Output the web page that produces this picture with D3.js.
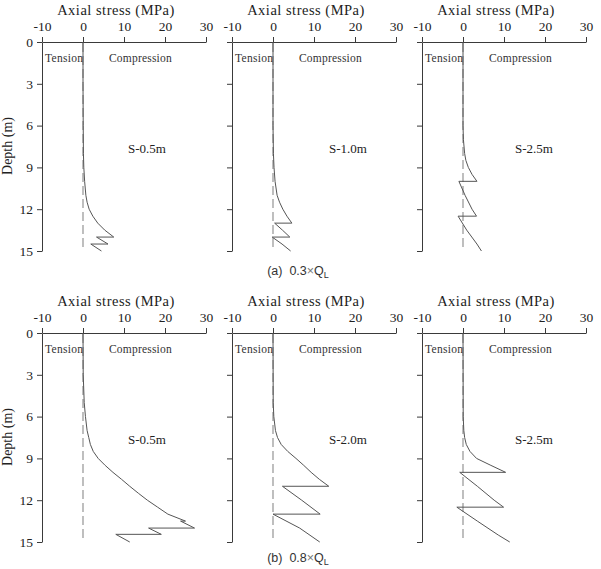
<!DOCTYPE html>
<html><head><meta charset="utf-8">
<script src="https://cdn.jsdelivr.net/npm/d3@7"></script>
<style>body{margin:0;background:#fff}</style></head>
<body><svg id="c" width="601" height="569"></svg>
<script>
// ---------- data ----------
const xTicks = [-10, 0, 10, 20, 30];
const yTicks = [0, 3, 6, 9, 12, 15];
const xTitle = "Axial stress (MPa)";
const yTitle = "Depth (m)";
const zoneLabels = ["Tension", "Compression"];
const rowCaptions = ["(a)", "(b)"];
const loadFactors = ["0.3", "0.8"];
const namesA = ["S-0.5m", "S-1.0m", "S-2.5m"];
const namesB = ["S-0.5m", "S-2.0m", "S-2.5m"];

// (a) 0.3×QL
const depthA1  = [0, 3, 6, 8, 9, 10, 11, 11.5, 12, 12.5, 13, 13.5, 14, 14, 14.5, 14.5, 15];
const stressA1 = [0, 0, 0.05, 0.1, 0.2, 0.4, 0.7, 1.0, 1.5, 2.4, 3.6, 5.3, 7.5, 3.3, 6.1, 1.9, 4.5];
const depthA2  = [0, 6, 8, 9, 10, 11, 11.5, 12, 12.5, 13, 13, 13.5, 14, 14, 14.5, 15];
const stressA2 = [0, 0, 0.1, 0.25, 0.5, 1.0, 1.6, 2.4, 3.4, 4.6, 0.4, 2.3, 4.1, -0.2, 2.2, 4.3];
const depthA3  = [0, 6, 7, 8, 8.5, 9, 9.5, 10, 10, 11, 12, 12.5, 12.5, 13.5, 14.5, 15];
const stressA3 = [0, 0, 0.1, 0.4, 0.7, 1.3, 2.2, 3.4, -1.0, 0.5, 2.2, 3.3, -1.2, 0.9, 3.4, 4.5];

// (b) 0.8×QL
const depthB1  = [0, 3, 5, 6, 7, 7.5, 8, 8.5, 9, 9.5, 10, 10.5, 11, 11.5, 12, 12.5, 13, 13.5, 13.5, 14, 14, 14.45, 14.45, 15];
const stressB1 = [0, 0.05, 0.3, 0.6, 1.0, 1.4, 1.8, 2.5, 3.7, 5.4, 7.3, 9.4, 11.4, 13.5, 15.7, 18.2, 20.7, 25.0, 23.8, 27.2, 16.0, 19.1, 8.0, 11.4];
const depthB2  = [0, 5, 6, 7, 7.5, 8, 8.5, 9, 9.5, 10, 10.5, 11, 11, 12, 13, 13, 14, 15];
const stressB2 = [0, 0.05, 0.2, 0.6, 1.1, 2.0, 3.6, 5.6, 7.5, 9.3, 11.3, 13.6, 2.3, 7.0, 11.5, 0, 6.5, 11.4];
const depthB3  = [0, 6, 7, 7.5, 8, 8.5, 9, 9.5, 10, 10, 11, 12, 12.5, 12.5, 13.5, 14.5, 15];
const stressB3 = [0, 0.05, 0.2, 0.4, 0.8, 1.7, 3.3, 6.8, 10.4, -0.8, 3.5, 7.6, 9.9, -1.5, 3.5, 8.6, 11.4];

// ---------- layout ----------
const W = 164, H = 209;
const colLeft = [42, 232, 422];
const rowTop = [42, 333];
const labelOffset = [64, 75, 71];
const serif = "'Liberation Serif','Times New Roman',serif";

const rows = [
  { names: namesA, series: [[depthA1, stressA1], [depthA2, stressA2], [depthA3, stressA3]] },
  { names: namesB, series: [[depthB1, stressB1], [depthB2, stressB2], [depthB3, stressB3]] }
];

const svg = d3.select("#c");
svg.append("rect").attr("width", 601).attr("height", 569).attr("fill", "#fff");

const x = d3.scaleLinear().domain([-10, 30]).range([0, W]);
const y = d3.scaleLinear().domain([0, 15]).range([0, H]);
const line = d3.line().x(d => x(d[1])).y(d => y(d[0]));
const hyphenFmt = v => String(v);

rows.forEach((row, ri) => {
  row.series.forEach((ser, ci) => {
    const g = svg.append("g").attr("transform", `translate(${colLeft[ci]},${rowTop[ri]})`);

    const xa = g.append("g").call(d3.axisTop(x).tickValues(xTicks).tickSize(5).tickSizeOuter(0).tickPadding(6).tickFormat(hyphenFmt));
    const ya = g.append("g").call(d3.axisLeft(y).tickValues(yTicks).tickSize(5).tickSizeOuter(0).tickPadding(4)
      .tickFormat(ci === 0 ? hyphenFmt : () => ""));
    [xa, ya].forEach(a => {
      a.selectAll("path,line").attr("stroke", "#3a3a3a").attr("stroke-width", 1);
      a.selectAll("text").attr("fill", "#222").style("font-family", serif).style("font-size", "13.5px");
    });

    g.append("text").attr("x", 74).attr("y", -27.5).attr("text-anchor", "middle")
      .style("font-family", serif).style("font-size", "14.5px").style("letter-spacing", "0.5px")
      .attr("fill", "#222").text(xTitle);

    if (ci === 0) {
      g.append("text").attr("transform", `translate(${12 - colLeft[0]},104) rotate(-90)`)
        .attr("text-anchor", "middle").style("font-family", serif).style("font-size", "14px")
        .attr("fill", "#222").text(yTitle);
    }

    g.append("line").attr("x1", x(0)).attr("x2", x(0)).attr("y1", y(0) + 1).attr("y2", y(15))
      .attr("stroke", "#8a8a8a").attr("stroke-width", 1.1).attr("stroke-dasharray", "9,4");

    g.append("text").attr("x", 3).attr("y", 20).style("font-family", serif).style("font-size", "11.5px")
      .style("letter-spacing", "0.3px").attr("fill", "#333").text(zoneLabels[0]);
    g.append("text").attr("x", x(0) + 26).attr("y", 20).style("font-family", serif).style("font-size", "11.5px")
      .style("letter-spacing", "0.2px").attr("fill", "#333").text(zoneLabels[1]);

    g.append("text").attr("x", x(0) + labelOffset[ci]).attr("y", 110.5).attr("text-anchor", "middle")
      .style("font-family", serif).style("font-size", "13px").attr("fill", "#222").text(row.names[ci]);

    const pts = ser[0].map((d, i) => [d, ser[1][i]]);
    g.append("path").attr("d", line(pts)).attr("fill", "none").attr("stroke", "#555")
      .attr("stroke-width", 1).attr("stroke-linejoin", "round");
  });

  const cy = ri === 0 ? 275 : 562;
  const t = svg.append("text").attr("x", 298).attr("y", cy).attr("text-anchor", "middle")
    .style("font-family", "'Liberation Sans','DejaVu Sans',sans-serif").style("font-size", "12.5px").attr("fill", "#333");
  t.append("tspan").text(rowCaptions[ri] + "\u00a0 " + loadFactors[ri]);
  t.append("tspan").attr("fill", "#777").text("\u00d7");
  t.append("tspan").text("Q");
  t.append("tspan").attr("dy", 2.5).style("font-size", "9px").text("L");
});
</script></body></html>
